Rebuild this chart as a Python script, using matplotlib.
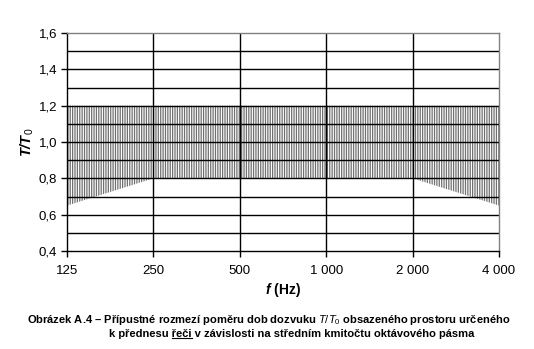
import matplotlib
matplotlib.use("Agg")
import matplotlib.pyplot as plt

plt.rcParams["font.family"] = ["Liberation Sans", "DejaVu Sans"]
plt.rcParams["mathtext.fontset"] = "custom"
plt.rcParams["mathtext.it"] = "Liberation Sans:italic"
plt.rcParams["mathtext.bf"] = "Liberation Sans:bold:italic"
plt.rcParams["mathtext.rm"] = "Liberation Sans"
plt.rcParams["hatch.linewidth"] = 0.9

# tolerance band T/T0 against octave band centre frequency
freq = [125, 250, 500, 1000, 2000, 4000]
freq_labels = ["125", "250", "500", "1 000", "2 000", "4 000"]
upper = [1.2, 1.2, 1.2, 1.2, 1.2, 1.2]
lower = [0.65, 0.8, 0.8, 0.8, 0.8, 0.65]
y_ticks = [0.4, 0.6, 0.8, 1.0, 1.2, 1.4, 1.6]
y_grid = [0.5, 0.7, 0.9, 1.1, 1.3, 1.5]

fig = plt.figure(figsize=(5.34, 3.49), dpi=100)
ax = fig.add_axes([0.1255, 0.2808, 0.809, 0.6246])

ax.fill_between(freq, lower, upper, facecolor="none", edgecolor="#707070",
                hatch="|" * 7, linewidth=0)

ax.set_xscale("log", base=2)
ax.set_xlim(freq[0], freq[-1])
ax.set_ylim(y_ticks[0], y_ticks[-1])
ax.set_xticks(freq)
ax.set_xticklabels(freq_labels)
ax.minorticks_off()
ax.set_yticks(y_ticks)
ax.set_yticklabels([("%.1f" % v).replace(".", ",") for v in y_ticks])

for v in y_ticks[1:-1] + y_grid:
    ax.axhline(v, color="black", lw=1.0)
for f in freq[1:-1]:
    ax.axvline(f, color="black", lw=1.0)

ax.tick_params(axis="both", labelsize=9.5, length=4, width=1.0, color="black")
ax.tick_params(axis="x", pad=6)
ax.tick_params(axis="y", pad=3)
for side in ["left", "bottom"]:
    ax.spines[side].set_color("black")
    ax.spines[side].set_linewidth(1.0)
for side in ["top", "right"]:
    ax.spines[side].set_color("#808080")
    ax.spines[side].set_linewidth(1.0)

ax.set_xlabel(r"$\mathbf{f}$ (Hz)", fontsize=10, fontweight="bold", labelpad=3)
ax.set_ylabel(r"$\mathbf{T/T}_0$", fontsize=10.5, fontweight="bold", labelpad=2)

# caption
fs_cap = 8.0
cap1 = "Obrázek A.4 – Přípustné rozmezí poměru dob dozvuku $\\mathit{T/T}_0$ obsazeného prostoru určeného"
fig.text(0.503, 0.083, cap1, ha="center", va="center", fontsize=fs_cap, fontweight="bold")

pre = "k přednesu "
word = "řeči"
post = " v závislosti na středním kmitočtu oktávového pásma"
t_full = fig.text(0, 0, pre + word + post, fontsize=fs_cap, fontweight="bold")
t_pre = fig.text(0, 0, pre, fontsize=fs_cap, fontweight="bold")
t_word = fig.text(0, 0, word, fontsize=fs_cap, fontweight="bold")
fig.canvas.draw()
r = fig.canvas.get_renderer()
w_full = t_full.get_window_extent(r).width
w_pre = t_pre.get_window_extent(r).width
w_word = t_word.get_window_extent(r).width
t_pre.remove()
t_word.remove()
W = fig.bbox.width
x0 = 0.547 * W - w_full / 2
y_line = 0.043
t_full.set_position((x0 / W, y_line))
t_full.set_va("center")
fig.add_artist(plt.Line2D([(x0 + w_pre) / W, (x0 + w_pre + w_word) / W],
                          [y_line - 0.011, y_line - 0.011],
                          color="black", lw=0.8))

fig.savefig("out.png", dpi=100)
